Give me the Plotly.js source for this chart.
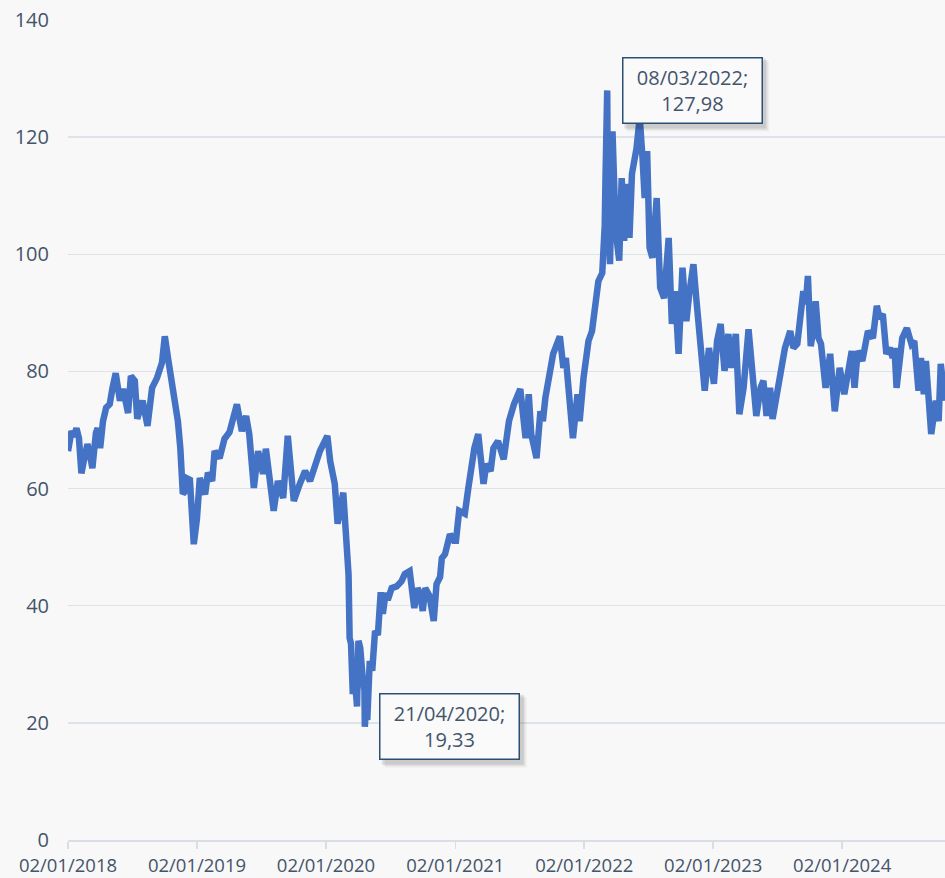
<!DOCTYPE html>
<html>
<head>
<meta charset="utf-8">
<script src="https://cdn.plot.ly/plotly-3.0.1.min.js"></script>
<style>
  html, body { margin: 0; padding: 0; background: #f8f8f8; }
  #chart { width: 945px; height: 878px; }
</style>
</head>
<body>
<div id="chart"></div>
<script>
// ---- data ----
const dates = [
'2018-01-02','2018-01-12','2018-01-19','2018-01-26','2018-02-02','2018-02-09','2018-02-16','2018-02-26',
'2018-03-06','2018-03-12','2018-03-22','2018-03-27','2018-04-03','2018-04-11','2018-04-20','2018-04-30',
'2018-05-08','2018-05-17','2018-05-29','2018-06-07','2018-06-21','2018-06-29','2018-07-10','2018-07-17',
'2018-08-01','2018-08-15','2018-08-28','2018-09-11','2018-09-25','2018-10-03','2018-10-12','2018-10-26',
'2018-11-09','2018-11-16','2018-11-23','2018-11-29','2018-12-03','2018-12-13','2018-12-24',
'2019-01-02','2019-01-10','2019-01-25','2019-02-02','2019-02-14','2019-02-21','2019-03-07','2019-03-21',
'2019-04-04','2019-04-11','2019-04-25','2019-05-09','2019-05-21','2019-05-30','2019-06-12','2019-06-24',
'2019-07-08','2019-07-16','2019-07-26','2019-08-07','2019-08-19','2019-09-03','2019-09-16','2019-10-03',
'2019-10-20','2019-11-04','2019-11-18','2019-12-02','2019-12-16',
'2020-01-06','2020-01-14','2020-01-27','2020-02-04','2020-02-20','2020-02-28','2020-03-06','2020-03-09',
'2020-03-13','2020-03-18','2020-03-20','2020-03-27','2020-03-30','2020-04-03','2020-04-08','2020-04-15',
'2020-04-20','2020-04-21','2020-04-23','2020-04-28','2020-05-05','2020-05-12','2020-05-20','2020-05-28',
'2020-06-05','2020-06-11','2020-06-19','2020-06-25','2020-07-06','2020-07-20','2020-08-03','2020-08-12',
'2020-08-26','2020-09-08','2020-09-17','2020-09-25','2020-10-02','2020-10-09','2020-10-21','2020-11-02',
'2020-11-10','2020-11-20','2020-11-25','2020-12-04','2020-12-18','2020-12-29',
'2021-01-04','2021-01-13','2021-01-29','2021-02-08','2021-02-17','2021-02-25','2021-03-08','2021-03-18',
'2021-03-23','2021-03-31','2021-04-12','2021-04-20','2021-05-03','2021-05-19','2021-06-03','2021-06-17',
'2021-07-05','2021-07-20','2021-07-29','2021-08-05','2021-08-20','2021-08-31','2021-09-07','2021-09-14',
'2021-09-24','2021-10-06','2021-10-25','2021-11-04','2021-11-11','2021-11-26','2021-12-01','2021-12-14',
'2021-12-20','2021-12-31',
'2022-01-07','2022-01-14','2022-01-24','2022-02-03','2022-02-11','2022-02-22','2022-02-24','2022-03-01',
'2022-03-03','2022-03-08','2022-03-10','2022-03-16','2022-03-23','2022-04-01','2022-04-11','2022-04-18',
'2022-04-25','2022-05-03','2022-05-10','2022-05-17','2022-05-30','2022-06-08','2022-06-16','2022-06-22',
'2022-06-29','2022-07-06','2022-07-14','2022-07-26','2022-08-05','2022-08-16','2022-08-29','2022-09-07',
'2022-09-16','2022-09-26','2022-10-07','2022-10-18','2022-10-26','2022-11-07','2022-11-15','2022-11-28',
'2022-12-09','2022-12-21',
'2023-01-04','2023-01-13','2023-01-23','2023-02-03','2023-02-14','2023-02-22','2023-03-07','2023-03-17',
'2023-03-29','2023-04-12','2023-04-26','2023-05-04','2023-05-16','2023-05-24','2023-06-02','2023-06-12',
'2023-06-19','2023-07-01','2023-07-14','2023-07-24','2023-08-08','2023-08-17','2023-08-28','2023-09-05',
'2023-09-14','2023-09-21','2023-09-27','2023-10-05','2023-10-13','2023-10-19','2023-10-27','2023-11-03',
'2023-11-09','2023-11-16','2023-11-29','2023-12-12','2023-12-26',
'2024-01-08','2024-01-18','2024-01-29','2024-02-06','2024-02-15','2024-02-28','2024-03-15','2024-03-29',
'2024-04-09','2024-04-17','2024-04-26','2024-05-06','2024-05-16','2024-05-24','2024-05-29','2024-06-04',
'2024-06-20','2024-07-03','2024-07-16','2024-07-24','2024-08-05','2024-08-12','2024-08-20','2024-08-26',
'2024-09-10','2024-09-23','2024-10-01','2024-10-07','2024-10-14','2024-10-19'
];
const prices = [
66.4,69.8,68.9,70.3,68.6,62.6,64.8,67.6,
65.5,63.5,69.5,70.3,66.9,71.5,73.8,74.4,
77.2,79.7,75.0,77.0,72.9,79.2,78.4,71.9,
75.0,70.7,77.2,78.9,81.5,86.0,82.3,77.2,
71.5,66.8,59.1,59.5,61.8,61.5,50.5,
54.9,61.8,59.0,62.7,61.3,66.4,65.2,68.5,
69.6,71.2,74.4,69.8,72.4,69.3,60.1,66.4,
62.5,66.8,61.8,56.2,61.3,58.4,69.0,57.9,
60.8,63.0,61.3,64.2,66.4,
69.0,64.7,60.8,54.0,59.3,50.5,45.3,34.5,
33.5,24.9,28.5,25.0,22.8,34.0,32.8,27.7,
25.6,19.33,21.3,20.5,30.6,28.9,35.7,35.0,
42.3,38.6,42.2,41.0,43.0,43.3,44.2,45.4,
45.9,39.6,43.0,41.9,39.1,43.0,41.7,37.4,
43.7,44.9,48.1,48.8,52.2,51.1,
51.1,56.2,55.7,60.1,64.2,66.9,69.3,64.7,
60.8,64.2,63.0,66.9,68.1,65.0,71.5,74.4,
77.0,68.6,76.1,69.3,65.2,73.2,71.5,75.5,
78.4,83.0,86.0,80.6,82.3,72.7,68.6,76.1,
71.5,78.9,
81.8,85.2,86.9,90.8,95.4,96.8,98.9,104.9,
112.5,127.98,109.3,98.3,121.0,104.0,98.9,113.0,
102.3,112.0,102.8,113.7,118.1,123.3,116.4,109.6,
117.6,101.1,99.4,109.6,94.3,92.5,102.8,88.1,
93.7,83.0,97.7,88.6,93.2,98.3,92.5,84.0,
76.7,84.0,
77.9,85.2,88.1,80.1,86.4,80.6,86.4,72.7,
77.2,87.2,77.9,72.4,77.2,78.4,72.4,77.2,
71.9,76.1,81.3,84.0,86.9,84.0,84.7,90.3,
93.7,91.5,96.3,84.3,87.4,92.0,85.7,84.7,
79.6,77.2,83.0,73.2,80.6,
76.1,79.6,83.5,77.2,83.5,81.8,86.9,85.7,
91.2,89.1,89.8,83.0,84.0,82.3,84.0,77.2,
85.7,87.4,84.7,85.2,76.7,82.3,76.1,81.8,
69.3,75.0,71.5,81.3,77.0,75.0
];

const tickDates  = ['2018-01-02','2019-01-02','2020-01-02','2021-01-02','2022-01-02','2023-01-02','2024-01-02'];
const tickLabels = ['02/01/2018','02/01/2019','02/01/2020','02/01/2021','02/01/2022','02/01/2023','02/01/2024'];

const calloutDates  = ['2022-03-08','2020-04-21'];
const calloutValues = [127.98, 19.33];
const calloutTexts  = ['08/03/2022;<br>127,98','21/04/2020;<br>19,33'];

// ---- styling ----
const textColor = '#44546A';
const fontFam = '"Open Sans", "Noto Sans", sans-serif';

const annotations = [];
const shapes = [];
calloutDates.forEach((d, i) => {
  // soft drop shadow (pixel-sized shapes anchored at the data point)
  [[7, 'rgba(0,0,0,0.04)'], [5.5, 'rgba(0,0,0,0.06)'], [4, 'rgba(0,0,0,0.09)']].forEach(s => {
    shapes.push({
      type: 'rect', layer: 'above',
      xref: 'x', yref: 'y', xsizemode: 'pixel', ysizemode: 'pixel',
      xanchor: d, yanchor: calloutValues[i],
      x0: 15 + s[0] - 2, x1: 155 + s[0], y0: -34 - s[0], y1: 34 - s[0] + 2,
      fillcolor: s[1], line: {width: 0}
    });
  });
  annotations.push({
    x: d, y: calloutValues[i], xref: 'x', yref: 'y', showarrow: false,
    xshift: 85, yshift: 0,
    text: calloutTexts[i], font: {family: fontFam, size: 20, color: textColor},
    bgcolor: '#fafafa', bordercolor: '#2C4F75', borderwidth: 1.5, borderpad: 5,
    width: 128, height: 54, align: 'center', valign: 'middle'
  });
});

const trace = {
  x: dates, y: prices, type: 'scatter', mode: 'lines',
  line: {color: '#4472C4', width: 6.5, shape: 'linear'},
  hoverinfo: 'skip'
};

const layout = {
  width: 945, height: 878,
  margin: {l: 68, r: 0, t: 20, b: 38, pad: 0},
  paper_bgcolor: '#f8f8f8', plot_bgcolor: '#f8f8f8',
  showlegend: false,
  font: {family: fontFam, color: textColor},
  xaxis: {
    type: 'date', range: ['2018-01-02', '2024-10-19'],
    tickmode: 'array', tickvals: tickDates, ticktext: tickLabels,
    showgrid: false, zeroline: false,
    showline: true, linecolor: '#d9dde4', linewidth: 1.5,
    ticks: 'outside', ticklen: 7, tickwidth: 1.5, tickcolor: '#d9dde4',
    ticklabelstandoff: 1,
    tickfont: {family: fontFam, size: 18.5, color: textColor}
  },
  yaxis: {
    range: [0, 140], tickmode: 'linear', tick0: 0, dtick: 20,
    showgrid: true, gridcolor: '#dee2e9', gridwidth: 1.5,
    zeroline: false, showline: false, ticks: '',
    ticklabelstandoff: 18,
    tickfont: {family: fontFam, size: 20, color: textColor}
  },
  shapes: shapes,
  annotations: annotations
};

Plotly.newPlot('chart', [trace], layout, {displayModeBar: false, staticPlot: true});
</script>
</body>
</html>
